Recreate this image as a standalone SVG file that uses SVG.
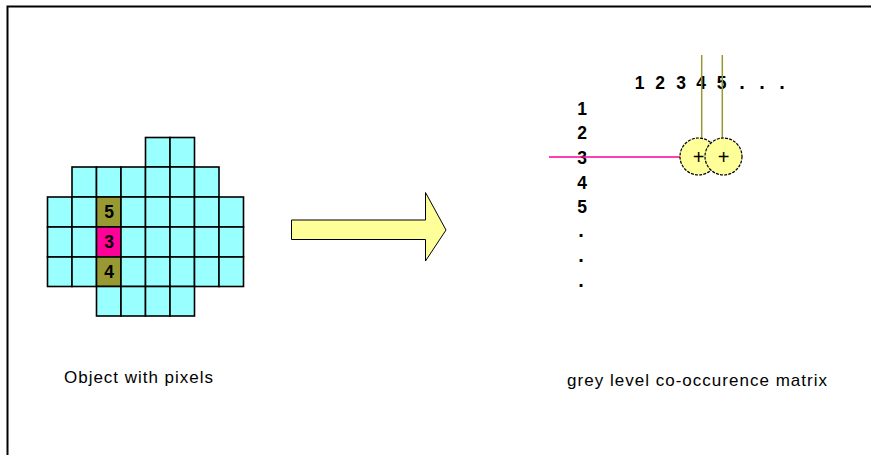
<svg xmlns="http://www.w3.org/2000/svg" width="871" height="455" viewBox="0 0 871 455">
<style>
.cell{fill:#99FFFF;stroke:#000;stroke-width:1.6}
.ol{fill:#999933}
.mg{fill:#FF0099}
.dg{font-family:"Liberation Sans",Arial,sans-serif;font-weight:bold;font-size:17.5px;fill:#000;text-anchor:middle}
.dt{font-family:"Liberation Sans",Arial,sans-serif;font-weight:bold;font-size:20px;fill:#000;text-anchor:middle}
.lbl{font-family:"Liberation Sans",Arial,sans-serif;font-size:17px;fill:#000}
.circ{fill:#FFFF99;stroke:#000;stroke-width:1.2;stroke-dasharray:3 1.2}
.pl{font-family:"Liberation Sans",Arial,sans-serif;font-size:20px;fill:#000;text-anchor:middle}
</style>
<rect x="0" y="0" width="871" height="455" fill="#fff"/>
<g id="frame" fill="none" stroke="#000" stroke-width="2">
<path d="M7.5 455 V6.5 H871"/>
</g>
<g id="object-grid">
<rect class="cell" x="145.5" y="137.5" width="24.5" height="29.5"/>
<rect class="cell" x="170" y="137.5" width="24.5" height="29.5"/>
<rect class="cell" x="72" y="167" width="24.5" height="30"/>
<rect class="cell" x="96.5" y="167" width="24.5" height="30"/>
<rect class="cell" x="121" y="167" width="24.5" height="30"/>
<rect class="cell" x="145.5" y="167" width="24.5" height="30"/>
<rect class="cell" x="170" y="167" width="24.5" height="30"/>
<rect class="cell" x="194.5" y="167" width="24.5" height="30"/>
<rect class="cell" x="47.5" y="197" width="24.5" height="30"/>
<rect class="cell" x="72" y="197" width="24.5" height="30"/>
<rect class="cell ol" x="96.5" y="197" width="24.5" height="30"/>
<rect class="cell" x="121" y="197" width="24.5" height="30"/>
<rect class="cell" x="145.5" y="197" width="24.5" height="30"/>
<rect class="cell" x="170" y="197" width="24.5" height="30"/>
<rect class="cell" x="194.5" y="197" width="24.5" height="30"/>
<rect class="cell" x="219" y="197" width="24.5" height="30"/>
<rect class="cell" x="47.5" y="227" width="24.5" height="30"/>
<rect class="cell" x="72" y="227" width="24.5" height="30"/>
<rect class="cell mg" x="96.5" y="227" width="24.5" height="30"/>
<rect class="cell" x="121" y="227" width="24.5" height="30"/>
<rect class="cell" x="145.5" y="227" width="24.5" height="30"/>
<rect class="cell" x="170" y="227" width="24.5" height="30"/>
<rect class="cell" x="194.5" y="227" width="24.5" height="30"/>
<rect class="cell" x="219" y="227" width="24.5" height="30"/>
<rect class="cell" x="47.5" y="257" width="24.5" height="29.5"/>
<rect class="cell" x="72" y="257" width="24.5" height="29.5"/>
<rect class="cell ol" x="96.5" y="257" width="24.5" height="29.5"/>
<rect class="cell" x="121" y="257" width="24.5" height="29.5"/>
<rect class="cell" x="145.5" y="257" width="24.5" height="29.5"/>
<rect class="cell" x="170" y="257" width="24.5" height="29.5"/>
<rect class="cell" x="194.5" y="257" width="24.5" height="29.5"/>
<rect class="cell" x="219" y="257" width="24.5" height="29.5"/>
<rect class="cell" x="96.5" y="286.5" width="24.5" height="29.5"/>
<rect class="cell" x="121" y="286.5" width="24.5" height="29.5"/>
<rect class="cell" x="145.5" y="286.5" width="24.5" height="29.5"/>
<rect class="cell" x="170" y="286.5" width="24.5" height="29.5"/>
<text class="dg" x="109" y="218">5</text>
<text class="dg" x="109" y="248">3</text>
<text class="dg" x="109" y="278">4</text>
</g>
<g id="object-label">
<text class="lbl" x="64" y="383" textLength="149" lengthAdjust="spacing">Object with pixels</text>
</g>
<g id="arrow">
<polygon points="291.5,220 425.5,220 425.5,192.5 446,230 425.5,261 425.5,239.5 291.5,239.5" fill="#FFFF99" stroke="#000" stroke-width="1"/>
</g>
<g id="matrix-header">
<text class="dg" x="639.5" y="89">1</text>
<text class="dg" x="660" y="89">2</text>
<text class="dg" x="681" y="89">3</text>
<text class="dg" x="701" y="89">4</text>
<text class="dg" x="721.5" y="89">5</text>
<text class="dt" x="742" y="89">.</text>
<text class="dt" x="762" y="89">.</text>
<text class="dt" x="782" y="89">.</text>
</g>
<g id="matrix-rows">
<text class="dg" x="582" y="114.5">1</text>
<text class="dg" x="582" y="139">2</text>
<text class="dg" x="582" y="163.5">3</text>
<text class="dg" x="582" y="188.5">4</text>
<text class="dg" x="582" y="213">5</text>
<text class="dt" x="581" y="237">.</text>
<text class="dt" x="581" y="262">.</text>
<text class="dt" x="581" y="287">.</text>
</g>
<g id="connectors">
<line x1="549" y1="157" x2="680" y2="157" stroke="#FF0099" stroke-width="1.5"/>
<line x1="701.7" y1="55" x2="701.7" y2="139" stroke="#999933" stroke-width="1.5"/>
<line x1="722.3" y1="55" x2="722.3" y2="139" stroke="#999933" stroke-width="1.5"/>
</g>
<g id="cell-4-3">
<circle class="circ" cx="698.5" cy="156.5" r="18.5"/>
<text class="pl" x="698.5" y="163.5">+</text>
</g>
<g id="cell-5-3">
<circle class="circ" cx="723.5" cy="156.5" r="18.5"/>
<text class="pl" x="723.5" y="163.5">+</text>
</g>
<g id="matrix-label">
<text class="lbl" x="567" y="386" textLength="260" lengthAdjust="spacing">grey level co-occurence matrix</text>
</g>
</svg>
